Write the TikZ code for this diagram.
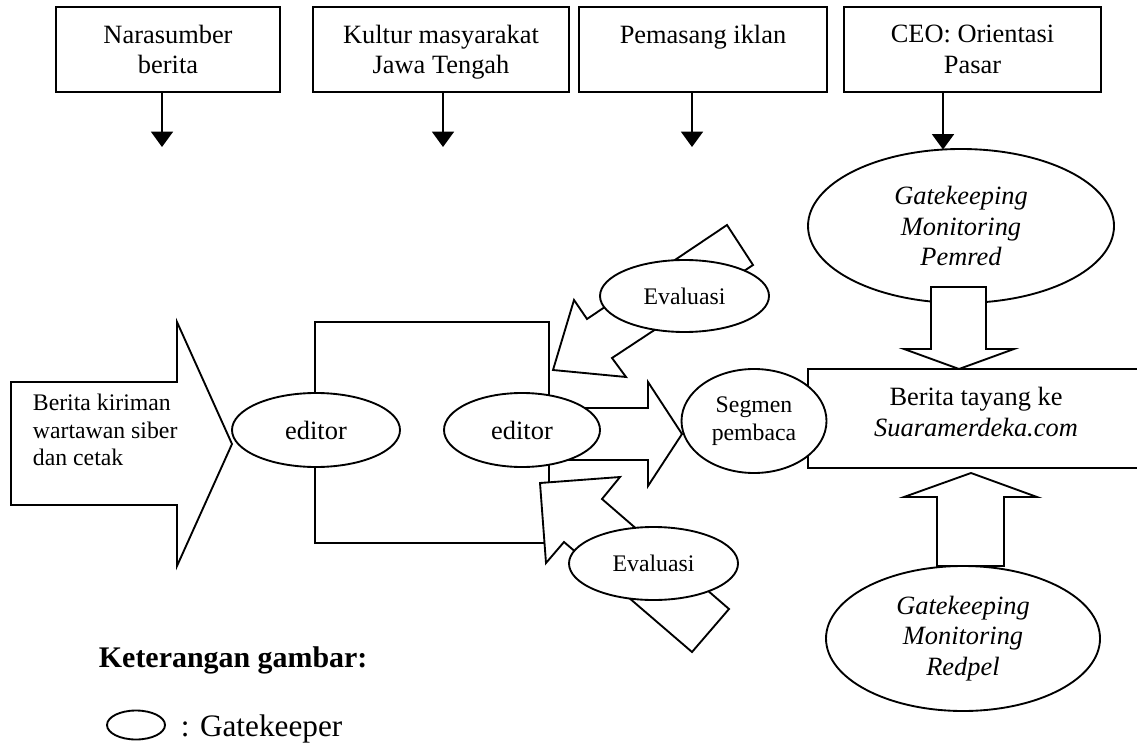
\documentclass[tikz,border=0pt]{standalone}
\usepackage{fontspec}
\setmainfont{Liberation Serif}
\usetikzlibrary{shapes.geometric, arrows.meta}
\newcommand{\pxu}{0.4545pt}
\newcommand{\besar}{\fontsize{12}{13.8}\selectfont}
\newcommand{\kecil}{\fontsize{10.8}{12.5}\selectfont}

\begin{document}
\begin{tikzpicture}[x=0.4545pt, y=-0.4545pt, line width=0.85pt,
    kotak/.style={draw, fill=white, align=center, inner sep=0pt, font=\besar},
    elips/.style={draw, ellipse, fill=white, align=center, inner sep=0pt},
    panah/.style={-{Triangle[width=10pt,length=7pt]}},
    blok/.style={draw, fill=white}]
\useasboundingbox (0,0) rectangle (1137,744);

% panah besar berita masuk
\draw[blok] (11,382)--(177,382)--(177,322)--(232,444)--(177,566)--(177,505)--(11,505)--cycle;
\node[anchor=west, align=left, inner sep=0pt, font=\kecil] (kiriman) at (32,430) {Berita kiriman\\wartawan siber\\dan cetak};

% kotak proses redaksi
\node[kotak, minimum width=234*\pxu, minimum height=221*\pxu] (proses) at (432,432.5) {};
\draw[blok] (560,408)--(648,408)--(648,382)--(682,434)--(648,486)--(648,460)--(560,460)--cycle;
\draw[blok] (727,225)--(587,319)--(574,300)--(553,370)--(626,377)--(612,358)--(753,265)--cycle;
\draw[blok] (540,483)--(620,477)--(602,499)--(729,609)--(692,652)--(564,542)--(546,563)--cycle;

\node[elips, minimum width=168*\pxu, minimum height=74*\pxu, font=\besar] (editor1) at (316,430) {editor};
\node[elips, minimum width=156*\pxu, minimum height=74*\pxu, font=\besar] (editor2) at (522,430) {editor};
\node[elips, minimum width=169*\pxu, minimum height=72*\pxu, font=\kecil] (evalatas) at (684.5,296) {Evaluasi};
\node[elips, minimum width=169*\pxu, minimum height=73*\pxu, font=\kecil] (evalbawah) at (653.5,563.5) {Evaluasi};

% berita tayang
\node[kotak, minimum width=336*\pxu, minimum height=99*\pxu] (tayang) at (976,418.5) {};
\node[align=center, inner sep=0pt, font=\besar] (tayangteks) at (976,412) {Berita tayang ke\\\textit{Suaramerdeka.com}};
\node[elips, minimum width=145*\pxu, minimum height=104*\pxu, font=\kecil] (segmen) at (754,421) {Segmen\\pembaca};

% gatekeeping pemred dan redpel
\node[elips, minimum width=306*\pxu, minimum height=154*\pxu, font=\besar\itshape] (pemred) at (961,226) {Gatekeeping\\Monitoring\\Pemred};
\draw[blok] (931,287)--(986,287)--(986,349)--(1014,349)--(959,369)--(904,349)--(931,349)--cycle;
\draw[blok] (937,566)--(937,497)--(904,497)--(971,473)--(1037,497)--(1004,497)--(1004,566)--cycle;
\node[elips, minimum width=274*\pxu, minimum height=145*\pxu, font=\besar\itshape] (redpel) at (963,638.5) {Gatekeeping\\Monitoring\\Redpel};

% faktor luar
\node[kotak, minimum width=224*\pxu, minimum height=85*\pxu] (nara) at (168,49.5) {Narasumber\\berita};
\node[kotak, minimum width=256*\pxu, minimum height=85*\pxu] (kultur) at (441,49.5) {Kultur masyarakat\\\raisebox{0pt}[\height][0pt]{Jawa Tengah}};
\node[kotak, minimum width=248*\pxu, minimum height=85*\pxu] (iklan) at (703,49.5) {Pemasang iklan\\\mbox{}};
\node[kotak, minimum width=257*\pxu, minimum height=85*\pxu] (ceo) at (972.5,49.5) {CEO: Orientasi\\Pasar};
\coordinate (t1) at (162,147);
\coordinate (t2) at (443,147);
\coordinate (t3) at (692,147);
\coordinate (t4) at (943,149.5);
\draw[panah] (nara.south -| t1) -- (t1);
\draw[panah] (kultur.south -| t2) -- (t2);
\draw[panah] (iklan.south -| t3) -- (t3);
\draw[panah] (ceo.south -| t4) -- (t4);

% keterangan
\node[anchor=base west, inner sep=0pt, font=\fontsize{13.6}{16}\selectfont\bfseries] (ket) at (98,667) {Keterangan gambar:};
\node[draw, ellipse, inner sep=0pt, minimum width=58*\pxu, minimum height=29*\pxu] (simbol) at (136,725) {};
\node[anchor=base west, inner sep=0pt, font=\fontsize{14.2}{16}\selectfont] (ketgk) at (180,736) {: Gatekeeper};
\end{tikzpicture}
\end{document}
